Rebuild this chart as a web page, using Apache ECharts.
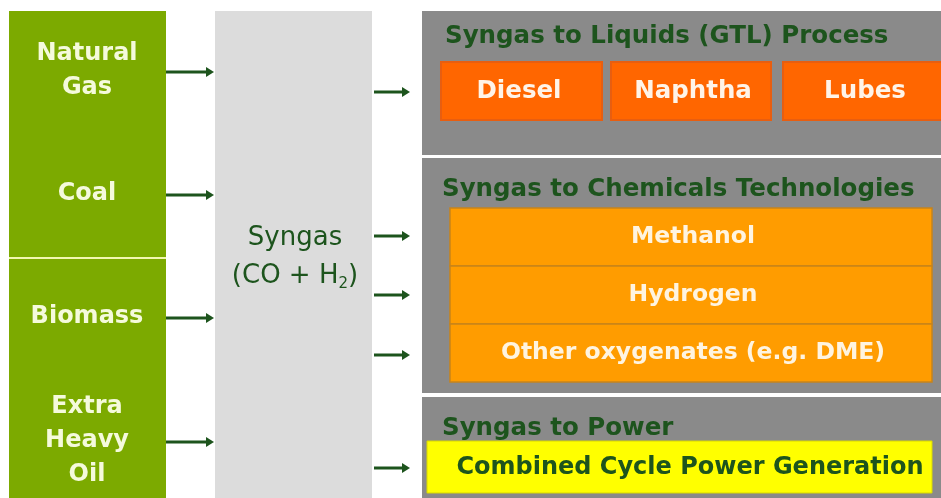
<!DOCTYPE html>
<html>
<head>
<meta charset="utf-8">
<script src="https://cdn.jsdelivr.net/npm/echarts@6/dist/echarts.min.js"></script>
<style>
  html, body { margin: 0; padding: 0; background: #fff; }
  #chart { width: 941px; height: 498px; }
</style>
</head>
<body>
<div id="chart"></div>
<script>
// 原料（左列）
const feedstocks = ['Natural\nGas', 'Coal', 'Biomass', 'Extra\nHeavy\nOil'];
// 中间合成气
const syngasName = 'Syngas';
const syngasFormula = ['(CO + H', '2', ')'];
// 右侧三个工艺区
const sectionTitles = ['Syngas to Liquids (GTL) Process', 'Syngas to Chemicals Technologies', 'Syngas to Power'];
const gtlProducts = ['Diesel', 'Naphtha', 'Lubes'];
const chemProducts = ['Methanol', 'Hydrogen', 'Other oxygenates (e.g. DME)'];
const powerProducts = ['Combined Cycle Power Generation'];

const FONT = '"DejaVu Sans", sans-serif';
const darkGreen = '#1d541d';
const els = [];

// 箭头
function arrow(x1, x2, y) {
  els.push({ type: 'line', shape: { x1: x1, y1: y, x2: x2 - 6, y2: y },
    style: { stroke: darkGreen, lineWidth: 3 } });
  els.push({ type: 'polygon', shape: { points: [[x2 - 8, y - 5], [x2, y], [x2 - 8, y + 5]] },
    style: { fill: darkGreen } });
}

// =================== 左列：原料 ===================
els.push({ type: 'rect', shape: { x: 9, y: 11, width: 157, height: 490 }, style: { fill: '#7caa00' } });
els.push({ type: 'line', shape: { x1: 9, y1: 258, x2: 166, y2: 258 }, style: { stroke: '#f2f7b0', lineWidth: 2 } });
const feedY = [72, 195, 318, 442];
feedstocks.forEach((name, i) => {
  els.push({ type: 'text', style: {
    text: name, x: 87, y: feedY[i] - 1, align: 'center', verticalAlign: 'middle',
    fill: '#f5fadc', font: 'bold 24px ' + FONT, lineHeight: 34 } });
  arrow(166, 214, feedY[i]);
});

// =================== 中列：合成气 ===================
els.push({ type: 'rect', shape: { x: 215, y: 11, width: 157, height: 490 }, style: { fill: '#dcdcdc' } });
els.push({ type: 'text', style: {
  text: syngasName + '\n' + syngasFormula[0] + '{sub|' + syngasFormula[1] + '}' + syngasFormula[2],
  x: 295, y: 257, align: 'center', verticalAlign: 'middle',
  fill: darkGreen, font: '26px ' + FONT, lineHeight: 38,
  rich: { sub: { fontSize: 15, fill: darkGreen, fontFamily: FONT, padding: [16, 0, 0, 0] } } } });

// =================== 右侧面板 ===================
const panels = [[11, 155], [158, 393], [397, 498]];
panels.forEach(p => {
  els.push({ type: 'rect', shape: { x: 422, y: p[0], width: 530, height: p[1] - p[0] }, style: { fill: '#8a8a8a' } });
});
const titleY = [37, 190, 429];
sectionTitles.forEach((t, i) => {
  els.push({ type: 'text', style: {
    text: t, x: i === 0 ? 445 : 442, y: titleY[i], align: 'left', verticalAlign: 'middle',
    fill: darkGreen, font: 'bold 24.5px ' + FONT } });
});

// GTL 产品
const gtlX = [[441, 602], [611, 771], [783, 950]];
const gtlTextX = [519, 693, 865];
gtlProducts.forEach((name, i) => {
  const x0 = gtlX[i][0], x1 = gtlX[i][1];
  els.push({ type: 'rect', shape: { x: x0, y: 62, width: x1 - x0, height: 58 },
    style: { fill: '#ff6600', stroke: '#e85e10', lineWidth: 2 } });
  els.push({ type: 'text', style: {
    text: name, x: gtlTextX[i], y: 92, align: 'center', verticalAlign: 'middle',
    fill: '#fff4e8', font: 'bold 24.5px ' + FONT } });
});

// 化学品
const chemY = [[208, 266], [266, 324], [324, 382]];
chemProducts.forEach((name, i) => {
  els.push({ type: 'rect', shape: { x: 450, y: chemY[i][0], width: 482, height: chemY[i][1] - chemY[i][0] },
    style: { fill: '#ff9c00', stroke: '#c8841a', lineWidth: 1.5 } });
  els.push({ type: 'text', style: {
    text: name, x: 693, y: (chemY[i][0] + chemY[i][1]) / 2, align: 'center', verticalAlign: 'middle',
    fill: '#fff4e0', font: 'bold 23.5px ' + FONT } });
});

// 发电
powerProducts.forEach(name => {
  els.push({ type: 'rect', shape: { x: 427, y: 441, width: 505, height: 52 },
    style: { fill: '#ffff00', stroke: '#d8d800', lineWidth: 1 } });
  els.push({ type: 'text', style: {
    text: name, x: 690, y: 468, align: 'center', verticalAlign: 'middle',
    fill: darkGreen, font: 'bold 24px ' + FONT } });
});

// 中列 -> 右侧箭头
[92, 236, 295, 355, 468].forEach(y => arrow(374, 410, y));

const chart = echarts.init(document.getElementById('chart'));
chart.setOption({ animation: false, graphic: { elements: els } });
</script>
</body>
</html>
